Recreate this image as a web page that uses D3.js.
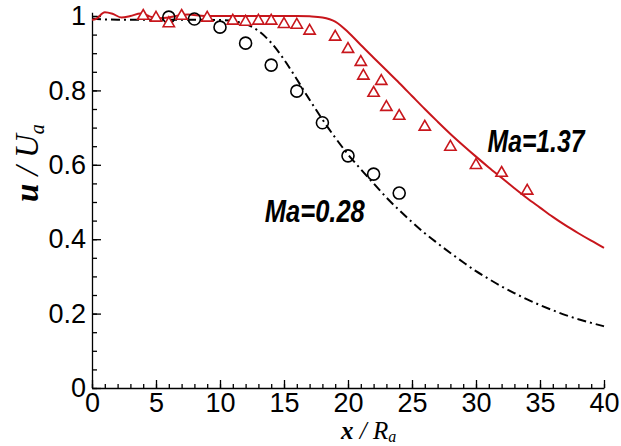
<!DOCTYPE html>
<html lang="en">
    <head>
        <meta charset="utf-8">
        <title>Velocity decay</title>
        <script src="https://d3js.org/d3.v7.min.js"></script>
        <style>
            body { margin: 0; background: #fff; }
        </style>
    </head>
    <body>
        <div id="dataviz"></div>
        <script>
            // simulation curves
            var simHighX = [0, 0.3, 1, 1.6, 2.3, 3, 3.8, 4.5, 5.2, 6, 6.7, 7.5, 8.8, 10, 12, 14, 16, 17, 18, 19, 20, 21, 22, 23, 24, 25, 26, 27, 28, 29, 30, 31, 32, 33, 34, 35, 36, 37, 38, 39, 40];
            var simHighY = [0.99, 0.992, 1.01, 1.006, 0.996, 1.0, 1.007, 0.999, 0.994, 0.996, 1.001, 1.004, 1.0, 1.0, 1.0, 1.0, 1.0, 0.999, 0.996, 0.985, 0.957, 0.922, 0.888, 0.854, 0.82, 0.785, 0.75, 0.716, 0.683, 0.652, 0.622, 0.593, 0.565, 0.537, 0.51, 0.485, 0.46, 0.437, 0.416, 0.396, 0.377];

            var simLowX = [0, 2, 4, 6, 8, 10, 11, 12, 13, 14, 15, 16, 17, 18, 19, 20, 21, 22, 23, 24, 25, 26, 27, 28, 29, 30, 31, 32, 33, 34, 35, 36, 37, 38, 39, 40];
            var simLowY = [0.993, 0.99, 0.99, 0.99, 0.99, 0.989, 0.986, 0.978, 0.96, 0.928, 0.883, 0.83, 0.775, 0.722, 0.673, 0.628, 0.588, 0.55, 0.512, 0.478, 0.446, 0.416, 0.389, 0.363, 0.338, 0.314, 0.293, 0.273, 0.255, 0.238, 0.223, 0.209, 0.196, 0.185, 0.175, 0.166];

            // experiment points
            var expLowX = [6, 8, 10, 12, 14, 16, 18, 20, 22, 24];
            var expLowY = [0.997, 0.992, 0.97, 0.927, 0.868, 0.798, 0.713, 0.624, 0.575, 0.524];

            var expHighX = [4, 5, 6, 7, 9, 11, 12, 13, 14, 15, 16, 17, 19, 20, 21, 21.2, 22, 22.6, 23, 24, 26, 28, 30, 32, 34];
            var expHighY = [1.0, 0.995, 0.98, 1.0, 0.995, 0.987, 0.984, 0.987, 0.987, 0.978, 0.976, 0.96, 0.944, 0.911, 0.876, 0.839, 0.793, 0.825, 0.755, 0.731, 0.702, 0.648, 0.599, 0.578, 0.53];

            var xTicks = [0, 5, 10, 15, 20, 25, 30, 35, 40];
            var yTicks = [0, 0.2, 0.4, 0.6, 0.8, 1];

            var W = 621, H = 446;
            var red = "#c8161c";

            var svg = d3.select("#dataviz")
                        .append("svg")
                        .attr("width", W)
                        .attr("height", H)
                        .style("background", "#fff");

            var x = d3.scaleLinear().domain([0, 40]).range([92, 604]);
            var y = d3.scaleLinear().domain([0, 1.01]).range([388, 388 - 1.01 * 372]);

            // minor ticks
            svg.append("g")
                .attr("transform", "translate(0,388)")
                .call(d3.axisBottom(x).tickValues(d3.range(0, 41, 1)).tickSize(-4).tickFormat(""))
                .call(g => g.select(".domain").remove());
            svg.append("g")
                .attr("transform", "translate(92,0)")
                .call(d3.axisLeft(y).tickValues(d3.range(0, 1.001, 0.05)).tickSize(-5).tickFormat(""))
                .call(g => g.select(".domain").remove());

            var xAxis = svg.append("g")
                .attr("transform", "translate(0,388)")
                .call(d3.axisBottom(x).tickValues(xTicks).tickSize(-8).tickSizeOuter(0).tickPadding(5));
            var yAxis = svg.append("g")
                .attr("transform", "translate(92,0)")
                .call(d3.axisLeft(y).tickValues(yTicks).tickSize(-9).tickSizeOuter(0).tickPadding(6)
                    .tickFormat(function(d) { return String(+d.toFixed(1)); }));

            svg.selectAll(".tick line, .domain").attr("stroke", "#000").attr("stroke-width", 1.3);
            svg.selectAll(".tick text")
                .style("font-family", "'Liberation Sans', Arial, sans-serif")
                .style("font-size", "27px")
                .attr("fill", "#000");

            var line = d3.line()
                .x(function(d) { return x(d[0]); })
                .y(function(d) { return y(d[1]); })
                .curve(d3.curveMonotoneX);

            svg.append("path")
                .datum(d3.zip(simLowX, simLowY))
                .attr("d", line)
                .attr("fill", "none")
                .attr("stroke", "#000")
                .attr("stroke-width", 2)
                .attr("stroke-dasharray", "9,4,2,4");

            svg.append("path")
                .datum(d3.zip(simHighX, simHighY))
                .attr("d", line)
                .attr("fill", "none")
                .attr("stroke", red)
                .attr("stroke-width", 2);

            svg.selectAll(".circ")
                .data(d3.zip(expLowX, expLowY))
                .enter()
                .append("circle")
                .attr("cx", function(d) { return x(d[0]); })
                .attr("cy", function(d) { return y(d[1]); })
                .attr("r", 6)
                .attr("fill", "none")
                .attr("stroke", "#000")
                .attr("stroke-width", 1.6);

            svg.selectAll(".tri")
                .data(d3.zip(expHighX, expHighY))
                .enter()
                .append("path")
                .attr("d", d3.symbol().type(d3.symbolTriangle).size(55))
                .attr("transform", function(d) { return "translate(" + x(d[0]) + "," + y(d[1]) + ")"; })
                .attr("fill", "#fff")
                .attr("stroke", red)
                .attr("stroke-width", 1.6);

            // annotations
            svg.append("text")
                .attr("x", x(30.9)).attr("y", y(0.634))
                .attr("textLength", 97).attr("lengthAdjust", "spacingAndGlyphs")
                .style("font-family", "'Liberation Sans', Arial, sans-serif")
                .style("font-size", "31px").style("font-weight", "bold").style("font-style", "italic")
                .text("Ma=1.37");
            svg.append("text")
                .attr("x", x(13.5)).attr("y", y(0.446))
                .attr("textLength", 100).attr("lengthAdjust", "spacingAndGlyphs")
                .style("font-family", "'Liberation Sans', Arial, sans-serif")
                .style("font-size", "31px").style("font-weight", "bold").style("font-style", "italic")
                .text("Ma=0.28");

            // axis titles
            var xt = svg.append("text")
                .attr("x", 341).attr("y", 439)
                .style("font-family", "'Liberation Serif', 'Times New Roman', serif")
                .style("font-size", "25px").style("font-style", "italic");
            xt.append("tspan").style("font-weight", "bold").text("x");
            xt.append("tspan").text(" / R");
            xt.append("tspan").attr("dy", 3).style("font-size", "16px").text("a");

            var yt = svg.append("text")
                .attr("transform", "translate(38,202) rotate(-90)")
                .style("font-family", "'Liberation Serif', 'Times New Roman', serif")
                .style("font-size", "33px").style("font-style", "italic");
            yt.append("tspan").style("font-weight", "bold").text("u");
            yt.append("tspan").text(" / U");
            yt.append("tspan").attr("dy", 6).style("font-size", "20px").text("a");
        </script>
    </body>
</html>
